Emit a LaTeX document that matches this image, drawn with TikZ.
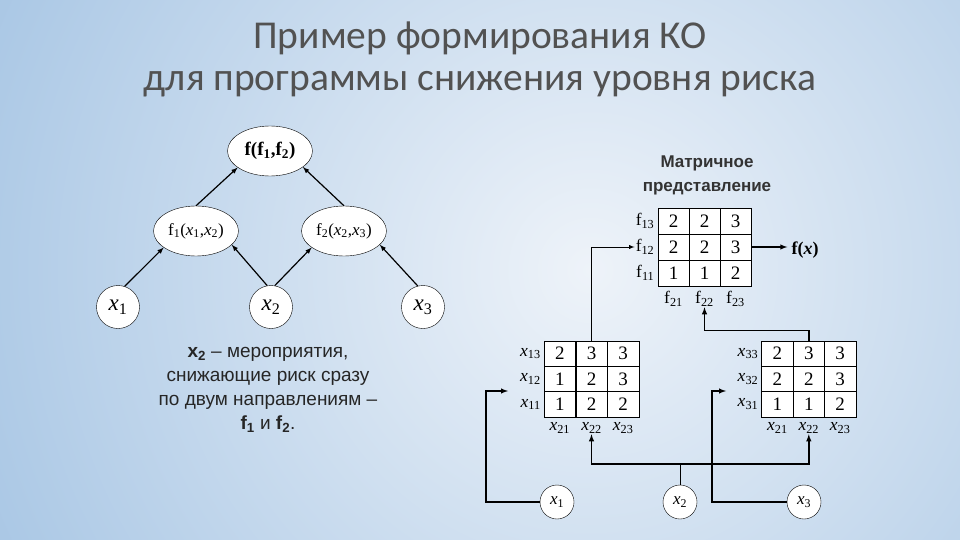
\documentclass[tikz,border=0pt]{standalone}
\usepackage{fontspec}
\setmainfont{Liberation Serif}
\newfontfamily\ttlfont{Carlito}
\newfontfamily\rusfont{Liberation Sans}
\usetikzlibrary{shapes.geometric,positioning}

\definecolor{bgin}{HTML}{EEF3F9}
\definecolor{bgout}{HTML}{A3C3E3}
\definecolor{ttlcol}{HTML}{525252}

\newcommand\xs[1]{\textit{x}\textsubscript{#1}}
\newcommand\fs[1]{f\textsubscript{#1}}

\tikzset{
  >=latex,
  oval/.style={draw, ellipse, fill=white, minimum width=85pt, minimum height=50pt, inner sep=0pt, font=\fontsize{17}{20}\selectfont},
  leaf/.style={draw, circle, fill=white, minimum size=43pt, inner sep=0pt, font=\fontsize{23}{24}\selectfont},
  smallleaf/.style={draw, circle, fill=white, minimum size=34pt, inner sep=0pt, font=\fontsize{17}{20}\selectfont},
  cell/.style={draw, fill=white, minimum width=31.5pt, minimum height=25.5pt, inner sep=0pt, font=\fontsize{19}{20}\selectfont},
  lab/.style={font=\fontsize{17.5}{18}\selectfont, inner sep=1pt},
  edgeline/.style={->, line width=1.2pt},
  wire/.style={line width=1.4pt},
  thinwire/.style={line width=0.9pt}
}

\begin{document}
\begin{tikzpicture}[x=1pt,y=-1pt]
\useasboundingbox (0,0) rectangle (960,540);
% background
\fill[bgout] (0,0) rectangle (960,540);
\begin{scope}
  \clip (0,0) rectangle (960,540);
  \shade[inner color=bgin, outer color=bgout] (590,270) circle (720);
\end{scope}

\node[font=\ttlfont\fontsize{39.5}{42}\selectfont, text=ttlcol, align=center] (title) at (480,59)
  {Пример формирования КО\\для программы снижения уровня риска};

% tree
\node[oval, font=\fontsize{19}{20}\selectfont] (f) at (270,151) {\textbf{f(f\textsubscript{1},f\textsubscript{2})}};
\node[oval] (f1) at (196,231) {\fs{1}(\xs{1},\xs{2})};
\node[oval] (f2) at (344,231) {\fs{2}(\xs{2},\xs{3})};
\node[leaf] (x1) at (118,307) {\xs{1}};
\node[leaf] (x2) at (271,307) {\xs{2}};
\node[leaf] (x3) at (423,307) {\xs{3}};

\draw[edgeline] (x1.72) -- (f1.207);
\draw[edgeline] (x2.100) -- (f1.339);
\draw[edgeline] (x2.80) -- (f2.207);
\draw[edgeline] (x3.104) -- (f2.339);
\draw[edgeline] (f1.north) -- (f.207);
\draw[edgeline] (f2.north) -- (f.334);

\node[font=\rusfont\fontsize{19}{24}\selectfont, text=black!85, align=center] (note) at (268,390)
  {\textbf{x\textsubscript{2}} – мероприятия,\\снижающие риск сразу\\по двум направлениям –\\\textbf{f\textsubscript{1}} и \textbf{f\textsubscript{2}}.};

% matrices
\node[font=\rusfont\bfseries\fontsize{17}{24}\selectfont, text=black!80, align=center] (cap) at (707,175)
  {Матричное\\представление};

\foreach \r/\vals in {1/{2,2,3},2/{2,2,3},3/{1,1,2}}
  \foreach \v [count=\c] in \vals
    \node[cell] (T\r\c) at (642.5+31*\c, 195+26*\r) {\v};
\foreach \r/\vals in {1/{2,3,3},2/{1,2,3},3/{1,2,2}}
  \foreach \v [count=\c] in \vals
    \node[cell] (L\r\c) at (528.1+31.7*\c, 328.4+25.3*\r) {\v};
\foreach \r/\vals in {1/{2,3,3},2/{2,2,3},3/{1,1,2}}
  \foreach \v [count=\c] in \vals
    \node[cell] (R\r\c) at (746+31.4*\c, 328.4+25.3*\r) {\v};

\foreach \r/\k in {1/13,2/12,3/11}
  \node[lab, left=2pt of T\r1] (Tf\k) {\fs{\k}};
\foreach \r/\k in {1/13,2/12,3/11}
  \node[lab, left=2pt of L\r1] (Lx\k) {\xs{\k}};
\foreach \r/\k in {1/33,2/32,3/31}
  \node[lab, left=2pt of R\r1] (Rx\k) {\xs{\k}};
\foreach \c in {1,2,3} {
  \node[lab, below=4pt of T3\c] (Tb\c) {\fs{2\c}};
  \node[lab, below=4pt of L3\c] (Lb\c) {\xs{2\c}};
  \node[lab, below=4pt of R3\c] (Rb\c) {\xs{2\c}};
}

\node[font=\fontsize{18}{20}\selectfont, inner sep=4pt] (fx) at (805,250) {\textbf{f(\textit{x})}};

\node[smallleaf] (b1) at (557,502) {\xs{1}};
\node[smallleaf] (b2) at (680,502) {\xs{2}};
\node[smallleaf] (b3) at (804,502) {\xs{3}};
\coordinate (inL) at (508,391);
\coordinate (inR) at (726,391);

\draw[->, wire] (T23.east) -- (T23.east -| fx.west);
\draw[->, thinwire] (L12.north) |- (Tf12.west);
\draw[->, wire] (R12.north) -- ++(0,-10) -| (Tb2.south);
\draw[->, wire] (b1.west) -- ++(-54,0) |- (inL);
\draw[->, wire] (b3.west) -- ++(-75,0) |- (inR);
\draw[thinwire] (b2.north) -- ++(0,-21) coordinate (split);
\draw[->, wire] (split) -| (Lb2.south);
\draw[->, wire] (split) -| (Rb2.south);
\end{tikzpicture}
\end{document}
